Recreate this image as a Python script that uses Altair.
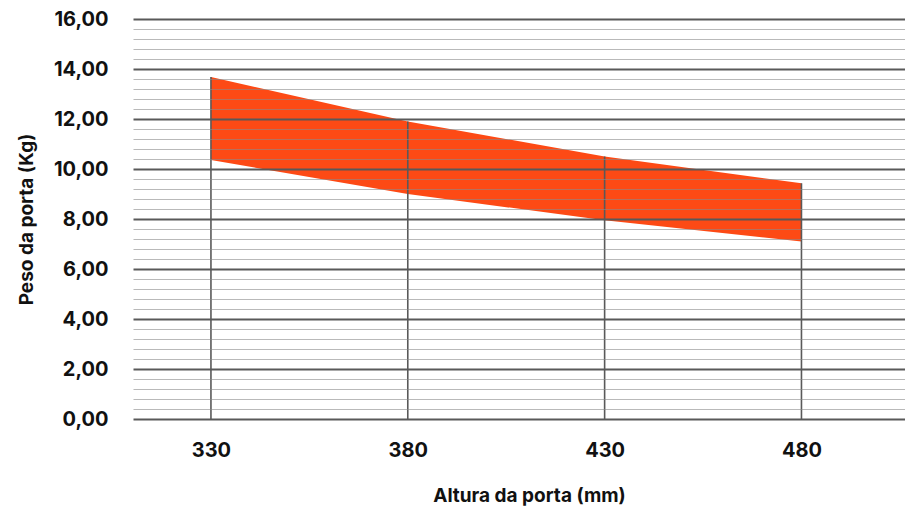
import altair as alt
import pandas as pd

# Data
heights = [330, 380, 430, 480]
peso_max = [13.68, 11.90, 10.50, 9.43]
peso_min = [10.36, 9.00, 7.95, 7.10]

# Axis ticks
y_major = [0, 2, 4, 6, 8, 10, 12, 14, 16]
y_minor = [0.4, 0.8, 1.2, 1.6, 2.4, 2.8, 3.2, 3.6, 4.4, 4.8, 5.2, 5.6,
           6.4, 6.8, 7.2, 7.6, 8.4, 8.8, 9.2, 9.6, 10.4, 10.8, 11.2, 11.6,
           12.4, 12.8, 13.2, 13.6, 14.4, 14.8, 15.2, 15.6]

df = pd.DataFrame({"altura": heights, "max": peso_max, "min": peso_min})

FONT = "Inter"
DARK = "#595959"
xscale = alt.Scale(domain=[310.2, 506.3], nice=False, zero=False)
yscale = alt.Scale(domain=[0, 16], nice=False, zero=True)

base = alt.Chart(df)

area = base.mark_area(color="#FD4A15", opacity=1).encode(
    x=alt.X("altura:Q", scale=xscale,
            axis=alt.Axis(values=heights, format="d", title="Altura da porta (mm)",
                          grid=False, domain=False, ticks=False,
                          labelPadding=21, titlePadding=26, titleX=396, zindex=1)),
    y=alt.Y("max:Q", scale=yscale,
            axis=alt.Axis(values=y_major,
                          labelExpr="replace(format(datum.value, '.2f'), '.', ',')",
                          title="Peso da porta (Kg)", grid=True, gridColor=DARK,
                          gridWidth=1.8, domain=False, ticks=False,
                          labelPadding=25, titlePadding=17, zindex=1)),
    y2="min:Q",
)

drops = base.mark_rule(color=DARK, strokeWidth=1.6).encode(
    x=alt.X("altura:Q", scale=xscale),
    y=alt.Y("max:Q", scale=yscale, axis=None),
    y2=alt.datum(0),
)

minor = base.mark_rule(opacity=0).encode(
    x=alt.X("altura:Q", scale=xscale),
    y=alt.Y("max:Q", scale=yscale,
            axis=alt.Axis(orient="right", values=y_minor, labels=False, ticks=False,
                          domain=False, title=None, grid=True, gridColor="#8a8a8a",
                          gridOpacity=0.6, gridWidth=1, zindex=1)),
)

chart = (
    alt.layer(area, drops, minor)
    .resolve_axis(y="independent")
    .properties(
        width=772, height=400,
        padding={"left": 125, "top": 11, "right": 0, "bottom": 94},
        autosize=alt.AutoSizeParams(type="none"),
    )
    .configure_view(stroke=None)
    .configure_axis(labelFont=FONT, titleFont=FONT, labelFontWeight="bold",
                    titleFontWeight="bold", labelFontSize=20, titleFontSize=19,
                    labelColor="#111111", titleColor="#111111")
)

chart.save("out.html", embed_options={"renderer": "svg", "actions": False})
